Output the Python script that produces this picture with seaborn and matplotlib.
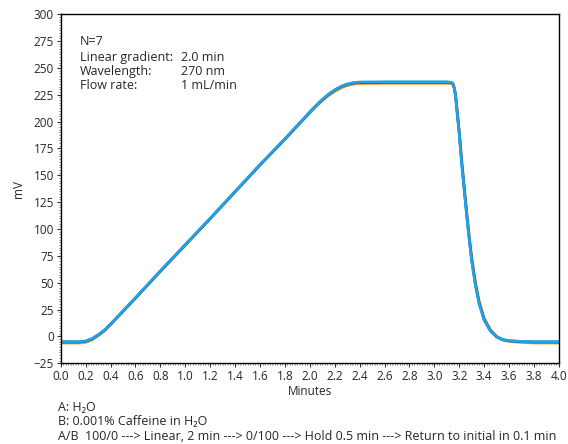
import numpy as np
import pandas as pd
import matplotlib
matplotlib.use("Agg")
import matplotlib.pyplot as plt
from matplotlib.ticker import MultipleLocator
import seaborn as sns

# time points (min)
minutes = [0.0, 0.1, 0.15, 0.2, 0.25, 0.3, 0.35, 0.4, 0.6, 0.8, 1.0, 1.2, 1.4,
           1.6, 1.8, 2.0, 2.05, 2.1, 2.15, 2.2, 2.25, 2.3, 2.35, 2.4, 2.6, 2.8,
           3.0, 3.1, 3.14, 3.15, 3.16, 3.17, 3.18, 3.2, 3.22, 3.24, 3.26, 3.28,
           3.3, 3.33, 3.36, 3.4, 3.45, 3.5, 3.55, 3.6, 3.7, 3.8, 4.0]

# top trace (light blue)
trace_light = [-5, -5, -5, -4.3, -2.2, 1.5, 5.8, 11.5, 36, 61, 85.5, 110, 135,
               160, 184, 209, 215, 220.5, 225.5, 229.5, 232.8, 235, 236.3, 236.8,
               237, 237, 237, 237, 236.5, 235, 231, 224, 212, 188, 160, 136,
               112, 90, 70, 47, 30, 15, 5, -0.5, -3, -4, -4.8, -5, -5]

# middle trace (dark blue)
trace_dark = [-5.3, -5.3, -5.3, -4.6, -2.5, 1.2, 5.5, 11.2, 35.7, 60.7, 85.2,
              109.7, 134.7, 159.7, 183.7, 208.7, 214.7, 220.2, 225.2, 229.2,
              232.4, 234.6, 235.9, 236.4, 236.6, 236.6, 236.6, 236.6, 236.2,
              234.8, 231, 224.3, 212.6, 189, 161.2, 137.2, 113.2, 91.2, 71.2,
              48.2, 30.8, 15.6, 5.3, -0.5, -3.2, -4.2, -5.0, -5.3, -5.3]

# bottom trace (orange)
trace_orange = [-6.3, -6.3, -6.3, -5.6, -3.5, 0.5, 5.0, 11.0, 35.5, 60.5, 85,
                109.5, 134.5, 159.5, 183.5, 208.3, 214.2, 219.5, 224.2, 228,
                231.2, 233.5, 234.8, 235.3, 235.5, 235.5, 235.5, 235.5, 235.2,
                234, 231, 225.2, 214, 191, 164, 140, 116, 94, 74, 50.5, 33,
                17, 6.3, 0, -3.4, -4.7, -5.7, -6.2, -6.3]

trace_names = ["orange", "dark", "light"]
trace_colors = ["#f7a23c", "#1f3a8a", "#1ea4e6"]

rows = []
for name, vals in zip(trace_names, [trace_orange, trace_dark, trace_light]):
    for t, v in zip(minutes, vals):
        rows.append({"Minutes": t, "mV": v, "trace": name})
df = pd.DataFrame(rows)

sns.set_style("ticks")
plt.rcParams["font.family"] = ["Open Sans", "DejaVu Sans"]
plt.rcParams["font.size"] = 8

fig = plt.figure(figsize=(5.68, 4.44), dpi=100)
ax = fig.add_axes([0.107, 0.182, 0.877, 0.786])

sns.lineplot(data=df, x="Minutes", y="mV", hue="trace", hue_order=trace_names,
             palette=trace_colors, linewidth=2.0, legend=False, ax=ax)

ax.set_xlim(0, 4.0)
ax.set_ylim(-25, 300)
ax.xaxis.set_major_locator(MultipleLocator(0.2))
ax.xaxis.set_minor_locator(MultipleLocator(0.02))
ax.yaxis.set_major_locator(MultipleLocator(25))
ax.yaxis.set_minor_locator(MultipleLocator(2.5))
ax.set_xticklabels([f"{v:.1f}" for v in ax.get_xticks()])
ax.tick_params(axis="both", which="major", length=3, width=0.8, labelsize=8.5,
               pad=2, color="#333333")
ax.tick_params(axis="both", which="minor", length=1.5, width=0.5, color="#555555")
for s in ax.spines.values():
    s.set_visible(True)
    s.set_linewidth(1.0)
    s.set_color("black")

ax.set_xlabel("Minutes", fontsize=8.5, labelpad=1)
ax.set_ylabel("mV", fontsize=8.5, labelpad=6)

# method info in the plot
ax.text(0.038, 0.94, "N=7", transform=ax.transAxes, fontsize=9, va="top")
info = [("Linear gradient:", "2.0 min"), ("Wavelength:", "270 nm"),
        ("Flow rate:", "1 mL/min")]
for i, (k, v) in enumerate(info):
    y = 0.894 - i * 0.040
    ax.text(0.038, y, k, transform=ax.transAxes, fontsize=9, va="top")
    ax.text(0.241, y, v, transform=ax.transAxes, fontsize=9, va="top")

# footnotes
fig.text(0.102, 0.083, "A: H\u2082O", fontsize=9, va="center")
fig.text(0.102, 0.051, "B: 0.001% Caffeine in H\u2082O", fontsize=9, va="center")
fig.text(0.102, 0.016,
         "A/B  100/0 ---> Linear, 2 min ---> 0/100 ---> Hold 0.5 min ---> Return to initial in 0.1 min",
         fontsize=9, va="center")

fig.savefig("out.png", dpi=100)
